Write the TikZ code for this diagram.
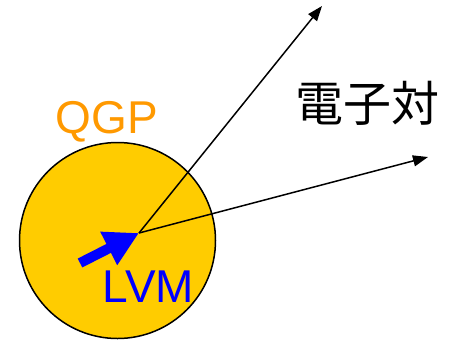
\documentclass[tikz,border=0pt]{standalone}
\usepackage{fontspec}
\setmainfont{Liberation Sans}
\newfontfamily\cjk{Noto Sans CJK JP}
\usetikzlibrary{arrows.meta}
\definecolor{qgpfill}{HTML}{FFCC00}
\definecolor{qgptext}{HTML}{FF9900}
\definecolor{lvmblue}{HTML}{0000FF}
\tikzset{
  pair/.style={draw=black, line width=1.5pt, -{Triangle[length=15pt,width=11pt]}},
  lvmarrow/.style={draw=lvmblue, line width=10pt, -{Triangle[length=34pt,width=35pt]}},
  lbl/.style={inner sep=0pt, anchor=base},
}
\begin{document}
\begin{tikzpicture}[x=1pt,y=-1pt]
\useasboundingbox (0,0) rectangle (452,341);
\node[circle, draw=black, line width=1.5pt, fill=qgpfill, minimum size=196pt, inner sep=0pt] (qgp) at (117.5,240.5) {};
\coordinate (v) at (139,233);
\coordinate (e1) at (322,6);
\coordinate (e2) at (428,157);
\coordinate (tail) at (80,263);
\draw[pair] (v) -- (e1);
\draw[pair] (v) -- (e2);
\draw[lvmarrow] (tail) -- (v);
\node[lbl, text=qgptext, font=\fontsize{46}{46}\selectfont] (qgplbl) at (107,133) {QGP};
\node[lbl, text=lvmblue, font=\fontsize{46}{46}\selectfont] (lvm) at (148.5,302) {LVM};
\node[lbl, text=black, font=\cjk\fontsize{48}{48}\selectfont] (ee) at (367,121) {電子対};
\end{tikzpicture}
\end{document}
